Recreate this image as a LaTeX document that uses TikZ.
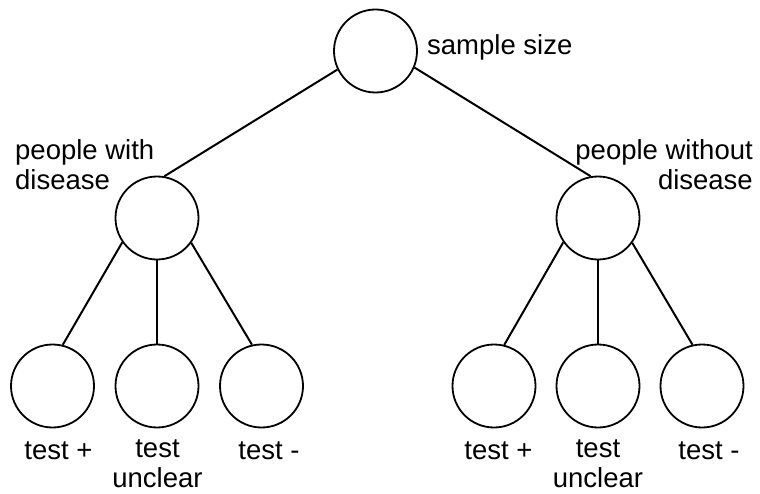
\documentclass[tikz,border=0pt]{standalone}
\usepackage{fontspec}
\setmainfont{Liberation Sans}
\begin{document}
\begin{tikzpicture}[x=1pt,y=-1pt,
  state/.style={circle, draw, line width=1.8pt, minimum size=83pt, inner sep=0pt},
  lbl/.style={inner sep=0pt, font=\fontsize{27.5}{30}\selectfont},
  link/.style={line width=2pt}]
\useasboundingbox (0,0) rectangle (760,494);

% tree nodes
\node[state] (root) at (375.5,51) {};
\node[state] (dis)  at (157,218) {};
\node[state] (nodis) at (598,218) {};
\node[state] (dpos) at (52.5,386) {};
\node[state] (dunc) at (157,386) {};
\node[state] (dneg) at (261.5,386) {};
\node[state] (npos) at (494,386) {};
\node[state] (nunc) at (598,386) {};
\node[state] (nneg) at (702,386) {};

% connectors
\draw[link] (root.206) -- (dis.80);
\draw[link] (root.-23) -- (nodis.100);
\draw[link] (dis.215) -- (dpos.76);
\draw[link] (dis.-90) -- (dunc.90);
\draw[link] (dis.-36) -- (dneg.103);
\draw[link] (nodis.215) -- (npos.76);
\draw[link] (nodis.-90) -- (nunc.90);
\draw[link] (nodis.-36) -- (nneg.103);

% labels
\node[lbl, anchor=base west] (lroot) at (427,55) {sample size};
\node[lbl, anchor=north west, align=left] (ldis) at (15,139) {people with\\disease};
\node[lbl, anchor=north east, align=right] (lnodis) at (753,139) {people without\\disease};
\node[lbl, anchor=base] (ldpos) at (58.5,459) {test +};
\node[lbl, anchor=north, align=center] (ldunc) at (157.5,440) {test\\unclear};
\node[lbl, anchor=base] (ldneg) at (269,459) {test -};
\node[lbl, anchor=base] (lnpos) at (498.5,459) {test +};
\node[lbl, anchor=north, align=center] (lnunc) at (598,440) {test\\unclear};
\node[lbl, anchor=base] (lnneg) at (709,459) {test -};
\end{tikzpicture}
\end{document}
